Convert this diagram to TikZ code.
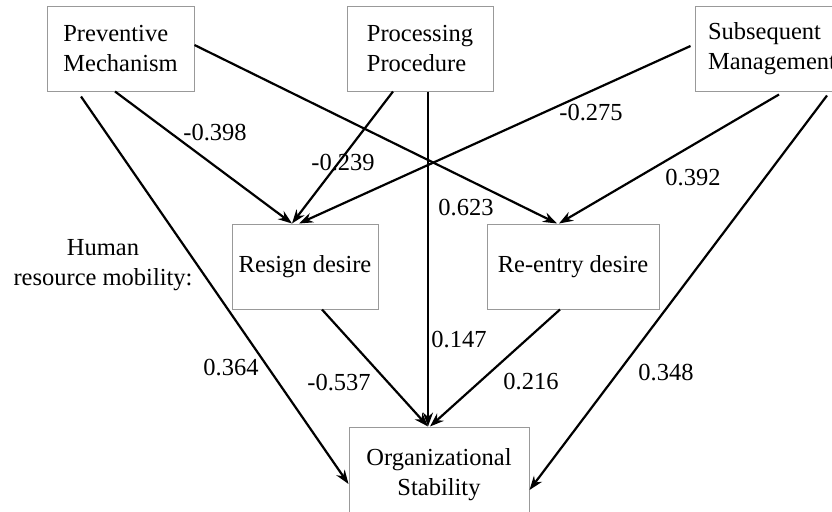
\documentclass[tikz,border=0pt]{standalone}
\usepackage{fontspec}
\setmainfont{Liberation Serif}
\usetikzlibrary{arrows.meta}
\tikzset{
	box/.style={draw=gray!80, line width=1pt, minimum height=84pt, font=\fontsize{24.5}{30}\selectfont},
	link/.style={->, line width=2.2pt},
	coef/.style={font=\fontsize{24.5}{30}\selectfont, inner sep=0pt},
}
\begin{document}
\begin{tikzpicture}[x=1pt, y=-1pt, >={Stealth[length=14pt,width=10pt]}]
	\useasboundingbox (0,0) rectangle (832,511);
	% factors
	\node[box, minimum width=147pt, align=left] (pm) at (120.5,49) {Preventive\\Mechanism};
	\node[box, minimum width=146pt, align=left] (pp) at (420,49) {Processing\\Procedure};
	\node[box, minimum width=154pt, align=left] (sm) at (772,49) {Subsequent\\Management};
	% mobility
	\node[box, minimum width=146pt, minimum height=85pt] (rd) at (305,266.5) {Resign desire};
	\node[box, minimum width=172pt, minimum height=85pt] (ed) at (573,266.5) {Re-entry desire};
	\node[coef, align=center] (hr) at (103,265) {Human\\resource mobility:};
	% outcome
	\node[box, minimum width=180pt, minimum height=95pt, align=center] (os) at (439,474.5) {Organizational\\Stability};
	
	\draw[link] ([xshift=-5.5pt]pm.south) -- ([xshift=-13pt]rd.north);
	\draw[link] ([yshift=4pt]pm.east) -- ([xshift=-16pt]ed.north);
	\draw[link] ([xshift=-39.5pt,yshift=-5pt]pm.south) -- ([yshift=-9.5pt]os.west);
	\draw[link] ([xshift=-27pt]pp.south) -- ([xshift=-13pt]rd.north);
	\draw[link] ([xshift=8pt]pp.south) -- ([xshift=-11pt]os.north);
	\draw[link] ([xshift=-4pt,yshift=3pt]sm.west) -- ([xshift=-6pt]rd.north);
	\draw[link] ([xshift=7pt,yshift=-3pt]sm.south) -- ([xshift=-14pt]ed.north);
	\draw[link] ([xshift=55pt,yshift=-4pt]sm.south) -- ([yshift=-15.5pt]os.east);
	\draw[link] ([xshift=17pt]rd.south) -- ([xshift=-11pt]os.north);
	\draw[link] ([xshift=-13pt]ed.south) -- ([xshift=-9pt]os.north);
	
	% path coefficients
	\node[coef] (cpr) at (215,133) {-0.398};
	\node[coef] (cqr) at (343,163) {-0.239};
	\node[coef] (csr) at (591,113) {-0.275};
	\node[coef] (cse) at (693,178) {0.392};
	\node[coef] (cpe) at (466,208) {0.623};
	\node[coef] (cqo) at (459,340) {0.147};
	\node[coef] (cpo) at (231,368) {0.364};
	\node[coef] (cro) at (339,383) {-0.537};
	\node[coef] (ceo) at (531,382) {0.216};
	\node[coef] (cso) at (666,373) {0.348};
\end{tikzpicture}
\end{document}
